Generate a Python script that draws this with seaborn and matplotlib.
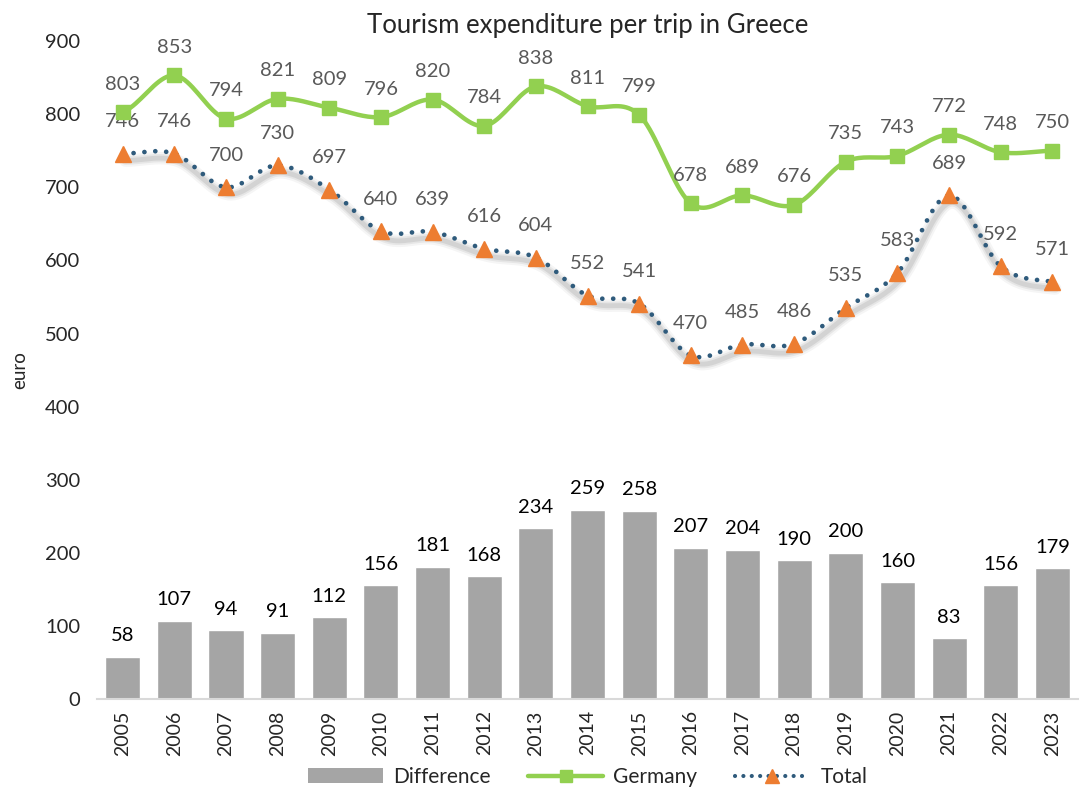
import numpy as np
import pandas as pd
import matplotlib
matplotlib.use("Agg")
import matplotlib.pyplot as plt
import matplotlib.transforms as mtransforms
from matplotlib.lines import Line2D
from matplotlib.patches import Patch
import seaborn as sns

years = [str(y) for y in range(2005, 2024)]
germany = [803, 853, 794, 821, 809, 796, 820, 784, 838, 811, 799, 678, 689, 676, 735, 743, 772, 748, 750]
total = [746, 746, 700, 730, 697, 640, 639, 616, 604, 552, 541, 470, 485, 486, 535, 583, 689, 592, 571]
difference = [58, 107, 94, 91, 112, 156, 181, 168, 234, 259, 258, 207, 204, 190, 200, 160, 83, 156, 179]

GREEN = "#92D050"
BLUE = "#2F5B7C"
ORANGE = "#ED7D31"
GREY = "#A5A5A5"
LABEL = "#595959"


def smooth(y, n=20):
    # catmull-rom style curve through the points, like Excel's smoothed line
    y = np.asarray(y, dtype=float)
    x = np.arange(len(y), dtype=float)
    p = np.concatenate([[y[0]], y, [y[-1]]])
    xs, ys = [], []
    for i in range(len(y) - 1):
        p0, p1, p2, p3 = p[i], p[i + 1], p[i + 2], p[i + 3]
        t = np.linspace(0, 1, n, endpoint=False)
        yy = 0.5 * ((2 * p1) + (-p0 + p2) * t + (2 * p0 - 5 * p1 + 4 * p2 - p3) * t ** 2
                    + (-p0 + 3 * p1 - 3 * p2 + p3) * t ** 3)
        xs.extend(x[i] + t)
        ys.extend(yy)
    xs.append(x[-1])
    ys.append(y[-1])
    return np.array(xs), np.array(ys)


sns.set_theme(style="white")
plt.rcParams["font.family"] = ["Lato", "DejaVu Sans"]

df = pd.DataFrame({"year": years, "diff": difference})

fig, ax = plt.subplots(figsize=(10.88, 7.9), dpi=100)
fig.subplots_adjust(left=0.089, right=0.991, top=0.948, bottom=0.115)

sns.barplot(data=df, x="year", y="diff", color=GREY, width=0.68, saturation=1, ax=ax)

xg, yg = smooth(germany)
ax.plot(xg, yg, color=GREEN, lw=3.2, zorder=3, solid_capstyle="round")
ax.plot(range(len(years)), germany, ls="none", marker="s", ms=10, color=GREEN, zorder=4)

xt, yt = smooth(total)
# soft drop shadow under the dotted line
for lw, a in [(9, 0.04), (6, 0.06), (3.5, 0.08)]:
    off = ax.transData + mtransforms.ScaledTranslation(2 / 72, -5 / 72, fig.dpi_scale_trans)
    ax.plot(xt, yt, color="black", lw=lw, alpha=a, transform=off, zorder=2,
            solid_capstyle="round")
ax.plot(xt, yt, color=BLUE, lw=3.4, ls=(0, (0.01, 2.3)), dash_capstyle="round", zorder=3)
ax.plot(range(len(years)), total, ls="none", marker="^", ms=11, color=ORANGE, zorder=4)

for i in range(len(years)):
    ax.annotate(str(germany[i]), (i, germany[i]), xytext=(0, 14), textcoords="offset points",
                ha="center", va="bottom", fontsize=14.5, color=LABEL)
    ax.annotate(str(total[i]), (i, total[i]), xytext=(0, 17), textcoords="offset points",
                ha="center", va="bottom", fontsize=14.5, color=LABEL)
    ax.annotate(str(difference[i]), (i, difference[i]), xytext=(0, 9), textcoords="offset points",
                ha="center", va="bottom", fontsize=14.5, color="black")

ax.set_ylim(0, 900)
ax.set_xlim(-0.5, len(years) - 0.5)
ax.set_yticks(range(0, 901, 100))
ax.tick_params(axis="y", labelsize=14.5, length=0, pad=12)
ax.tick_params(axis="x", labelsize=14, length=0, rotation=90, pad=8)
ax.set_xlabel("")
ax.set_ylabel("euro", fontsize=13.5, labelpad=12)
ax.set_title("Tourism expenditure per trip in Greece", fontsize=18.5, pad=6)

for s in ["top", "right", "left"]:
    ax.spines[s].set_visible(False)
ax.spines["bottom"].set_color("#D9D9D9")
ax.spines["bottom"].set_linewidth(1.5)

handles = [
    Patch(facecolor=GREY, edgecolor="none", label="Difference"),
    Line2D([0], [0], color=GREEN, lw=3.2, marker="s", ms=9, label="Germany"),
    Line2D([0], [0], color=BLUE, lw=3, ls=(0, (0.01, 2.0)), dash_capstyle="round",
           marker="^", ms=10, mfc=ORANGE, mec=ORANGE, label="Total"),
]
fig.legend(handles=handles, loc="lower center", ncol=3, frameon=False, fontsize=15,
           bbox_to_anchor=(0.54, -0.02), handlelength=3.6, handletextpad=0.5, columnspacing=1.8)

fig.savefig("out.png", dpi=100)
